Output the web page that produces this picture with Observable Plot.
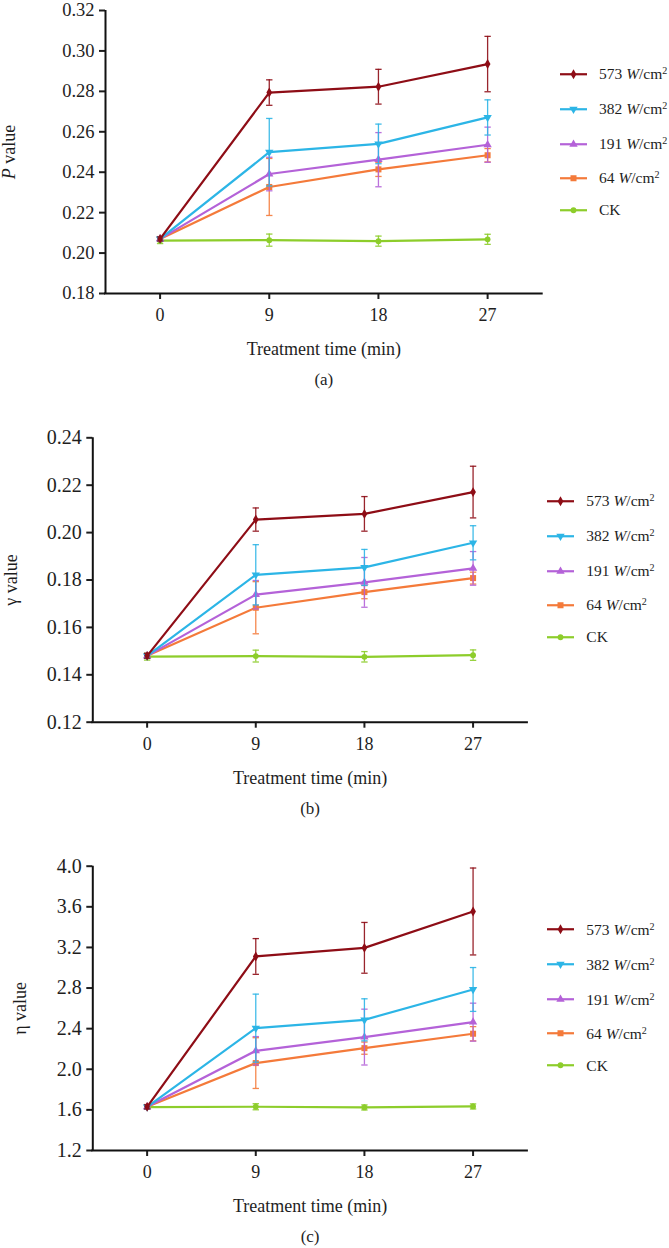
<!DOCTYPE html>
<html>
<head>
<meta charset="utf-8">
<script src="https://cdn.jsdelivr.net/npm/d3@7"></script>
<script src="https://cdn.jsdelivr.net/npm/@observablehq/plot@0.6"></script>
<style>
  body { margin: 0; background: #fff; }
  #root { position: relative; width: 669px; height: 1248px; overflow: hidden;
          font-family: "Liberation Serif", "Times New Roman", serif; color: #1e1e1e; }
  .panel { position: absolute; left: 0; }
  .row { position: absolute; display: flex; align-items: center; white-space: nowrap;
         font-size: 15.5px; line-height: 1; transform: translateY(-50%); }
  .row svg { display: block; overflow: visible; }
  .row span { margin-left: 12px; }
  .row sup { font-size: 0.65em; vertical-align: 0.55em; line-height: 0; }
</style>
</head>
<body>
<div id="root"></div>
<script>
// ---------- data ----------
const times = [0, 9, 18, 27];
const groups = ["573", "382", "191", "64", "CK"];
const groupColors = ["#8e0d16", "#2cb5e6", "#b462d8", "#f47a3a", "#8dcd2b"];

// (a) P value: rows follow `groups`, columns follow `times`
const pMeans = [
  [0.207, 0.2794, 0.2823, 0.2935],
  [0.207, 0.2499, 0.2540, 0.2671],
  [0.207, 0.2391, 0.2462, 0.2536],
  [0.207, 0.2327, 0.2414, 0.2484],
  [0.2062, 0.2064, 0.2059, 0.2068]
];
const pErrors = [
  [0.001, 0.0063, 0.0086, 0.0137],
  [0.001, 0.0167, 0.0098, 0.0087],
  [0.001, 0.0083, 0.0134, 0.0087],
  [0.001, 0.0141, 0.0035, 0.0033],
  [0.0015, 0.003, 0.0025, 0.0025]
];
const pTicks = [0.18, 0.20, 0.22, 0.24, 0.26, 0.28, 0.30, 0.32];

// (b) gamma value
const gammaMeans = [
  [0.148, 0.2055, 0.2079, 0.2171],
  [0.148, 0.1822, 0.1853, 0.1957],
  [0.148, 0.1738, 0.1790, 0.1849],
  [0.148, 0.1683, 0.1749, 0.1808],
  [0.1477, 0.1479, 0.1476, 0.1483]
];
const gammaErrors = [
  [0.001, 0.0049, 0.0073, 0.0109],
  [0.001, 0.0127, 0.0076, 0.0072],
  [0.001, 0.0060, 0.0105, 0.0071],
  [0.001, 0.0110, 0.0028, 0.0025],
  [0.0015, 0.0025, 0.0022, 0.0022]
];
const gammaTicks = [0.12, 0.14, 0.16, 0.18, 0.20, 0.22, 0.24];

// (c) eta value
const etaMeans = [
  [1.63, 3.111, 3.196, 3.554],
  [1.63, 2.405, 2.487, 2.786],
  [1.63, 2.182, 2.317, 2.464],
  [1.63, 2.061, 2.208, 2.350],
  [1.628, 1.631, 1.624, 1.634]
];
const etaErrors = [
  [0.02, 0.176, 0.25, 0.428],
  [0.02, 0.335, 0.207, 0.216],
  [0.02, 0.14, 0.275, 0.187],
  [0.02, 0.25, 0.06, 0.07],
  [0.02, 0.03, 0.025, 0.025]
];
const etaTicks = [1.2, 1.6, 2.0, 2.4, 2.8, 3.2, 3.6, 4.0];

const xLabel = "Treatment time (min)";
const legendUnit = "W";

// ---------- symbols ----------
const triangleDown = {
  draw(ctx, size) {
    const y = -Math.sqrt(size / (Math.sqrt(3) * 3));
    ctx.moveTo(0, -y * 2);
    ctx.lineTo(-Math.sqrt(3) * y, y);
    ctx.lineTo(Math.sqrt(3) * y, y);
    ctx.closePath();
  }
};
const capSymbol = {
  draw(ctx, size) {
    const w = Math.sqrt(size) / 2;
    ctx.moveTo(-w, 0);
    ctx.lineTo(w, 0);
  }
};
const groupSymbols = [d3.symbolDiamond, triangleDown, d3.symbolTriangle, d3.symbolSquare, d3.symbolCircle];
const groupSymbolR = [3.0, 3.1, 3.1, 3.4, 2.9];

const root = document.getElementById("root");
const FONT = "'Liberation Serif', 'Times New Roman', serif";

function makePanel(cfg) {
  const {means, errors, yTicks, yFormat, yLabel, caption, top, height,
         marginTop, frameH, marginLeft, marginRight, yTickFont, yLabelDx} = cfg;
  const rows = [];
  groups.forEach((g, gi) => times.forEach((t, ti) => {
    const m = means[gi][ti], e = errors[gi][ti];
    rows.push({group: g, t, mean: m, lo: m - e, hi: m + e});
  }));
  const marks = [];
  const order = [4, 3, 2, 1, 0];
  for (const gi of order) {
    const data = rows.filter(d => d.group === groups[gi]);
    const c = groupColors[gi];
    marks.push(Plot.ruleX(data, {x: "t", y1: "lo", y2: "hi", stroke: c, strokeWidth: 1.3, strokeOpacity: 0.9}));
    marks.push(Plot.dot(data, {x: "t", y: "lo", symbol: capSymbol, r: 3.6, stroke: c, fill: "none", strokeWidth: 1.3, strokeOpacity: 0.9}));
    marks.push(Plot.dot(data, {x: "t", y: "hi", symbol: capSymbol, r: 3.6, stroke: c, fill: "none", strokeWidth: 1.3, strokeOpacity: 0.9}));
    marks.push(Plot.line(data, {x: "t", y: "mean", stroke: c, strokeWidth: 2.2}));
    marks.push(Plot.dot(data, {x: "t", y: "mean", symbol: groupSymbols[gi], r: groupSymbolR[gi], fill: c, stroke: "none"}));
  }
  const yDomain = [yTicks[0], yTicks[yTicks.length - 1]];
  const xDomain = [-4.5, 31.5];
  const plot = Plot.plot({
    width: 669,
    height,
    marginTop,
    marginBottom: height - marginTop - frameH,
    marginLeft,
    marginRight,
    style: {fontFamily: FONT, fontSize: "18px", color: "#1e1e1e", background: "transparent", overflow: "visible"},
    x: {domain: xDomain},
    y: {domain: yDomain},
    marks: [
      Plot.axisY({ticks: yTicks, tickFormat: yFormat, tickSize: 6, tickPadding: 5, strokeWidth: 2, fontSize: yTickFont, label: null}),
      Plot.axisX({ticks: times, tickFormat: d3.format("d"), tickSize: 6, tickPadding: 9, strokeWidth: 2, fontSize: 18, label: null}),
      Plot.ruleX([xDomain[0]], {strokeWidth: 2, stroke: "#111"}),
      Plot.ruleY([yDomain[0]], {strokeWidth: 2, stroke: "#111", strokeLinecap: "square"}),
      ...marks,
      Plot.text([xLabel], {text: d => d, frameAnchor: "bottom", dy: 56, fontSize: 18, lineAnchor: "middle", textAnchor: "middle"}),
      Plot.text([caption], {text: d => d, frameAnchor: "bottom", dy: 86, fontSize: 17, lineAnchor: "middle", textAnchor: "middle"}),
      Plot.text([yLabel], {text: d => d, frameAnchor: "left", dx: yLabelDx, rotate: -90, fontSize: 18, lineAnchor: "middle", textAnchor: "middle"})
    ]
  });
  plot.classList.add("panel");
  plot.style.top = top + "px";
  // italic P in "P value"
  plot.querySelectorAll("text").forEach(t => {
    if (t.textContent === "P value") {
      t.textContent = "";
      const a = document.createElementNS("http://www.w3.org/2000/svg", "tspan");
      a.setAttribute("font-style", "italic");
      a.textContent = "P";
      const b = document.createElementNS("http://www.w3.org/2000/svg", "tspan");
      b.textContent = " value";
      t.appendChild(a); t.appendChild(b);
    }
  });
  root.appendChild(plot);

  // legend (right of the frame)
  const frameTop = top + marginTop;
  const rowOffsets = [64, 99, 134, 168, 200];
  groups.forEach((g, gi) => {
    const row = document.createElement("div");
    row.className = "row";
    row.style.left = (marginLeft + 455) + "px";
    row.style.top = (frameTop + rowOffsets[gi]) + "px";
    const sw = d3.create("svg").attr("width", 27).attr("height", 12);
    sw.append("line").attr("x1", 0).attr("x2", 27).attr("y1", 6).attr("y2", 6)
      .attr("stroke", groupColors[gi]).attr("stroke-width", 2.2);
    const size = Math.PI * groupSymbolR[gi] * groupSymbolR[gi];
    sw.append("path").attr("transform", "translate(13.5,6)")
      .attr("d", d3.symbol(groupSymbols[gi], size)()).attr("fill", groupColors[gi]);
    row.appendChild(sw.node());
    const span = document.createElement("span");
    if (g === "CK") span.textContent = "CK";
    else span.innerHTML = g + " <i>" + legendUnit + "</i>/cm<sup>2</sup>";
    row.appendChild(span);
    root.appendChild(row);
  });
}

makePanel({means: pMeans, errors: pErrors, yTicks: pTicks, yFormat: d3.format(".2f"),
  yLabel: "P value", caption: "(a)", top: 0, height: 400, marginTop: 10, frameH: 283,
  marginLeft: 105, marginRight: 127.3, yTickFont: 18.5, yLabelDx: -96});
makePanel({means: gammaMeans, errors: gammaErrors, yTicks: gammaTicks, yFormat: d3.format(".2f"),
  yLabel: "γ value", caption: "(b)", top: 400, height: 420, marginTop: 37.3, frameH: 284.4,
  marginLeft: 92.3, marginRight: 142.1, yTickFont: 20, yLabelDx: -82});
makePanel({means: etaMeans, errors: etaErrors, yTicks: etaTicks, yFormat: d3.format(".1f"),
  yLabel: "η value", caption: "(c)", top: 820, height: 428, marginTop: 45.7, frameH: 284.3,
  marginLeft: 92.3, marginRight: 142.1, yTickFont: 20, yLabelDx: -72.7});
</script>
</body>
</html>
